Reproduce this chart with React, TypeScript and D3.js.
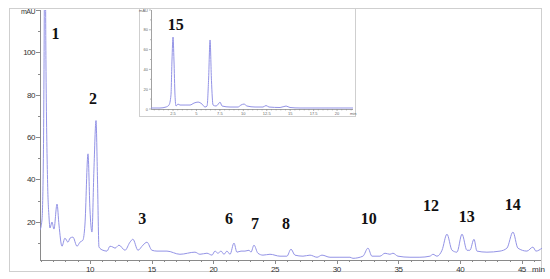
import React from "react";
import * as d3 from "d3";

// Main chromatogram (time in min, signal in mAU)
const mainTime = [5.95, 6.11, 6.23, 6.27, 6.35, 6.43, 6.56, 6.68, 6.76, 6.92, 7.08, 7.33, 7.49, 7.73, 7.97, 8.22, 8.38, 8.62, 8.95, 9.19, 9.43, 9.59, 9.84, 10.0, 10.16, 10.32, 10.49, 10.61, 10.73, 11.05, 11.38, 11.62, 11.86, 12.03, 12.35, 12.84, 13.24, 13.48, 13.89, 14.29, 14.62, 15.02, 15.43, 16.24, 17.29, 18.51, 18.91, 19.48, 19.89, 20.13, 20.37, 20.62, 20.86, 21.1, 21.35, 21.67, 21.91, 22.24, 22.56, 22.89, 23.05, 23.29, 23.61, 24.02, 24.59, 25.4, 25.96, 26.29, 26.61, 27.26, 27.83, 28.4, 28.8, 29.45, 30.26, 31.07, 31.31, 32.12, 32.53, 32.85, 33.5, 33.91, 34.31, 34.55, 34.96, 35.93, 36.74, 37.55, 37.8, 38.12, 38.53, 38.93, 39.34, 39.74, 40.15, 40.55, 40.79, 41.12, 41.36, 42.17, 43.23, 43.79, 44.28, 44.68, 45.41, 45.9, 46.14, 46.63];
const mainSignal = [16.1, 20.9, 54, 87, 170, 96.7, 40, 22.3, 17.1, 19.9, 16.6, 28.4, 18.5, 8.5, 12.3, 10.4, 12.3, 12.8, 8.5, 10.4, 11.4, 18.5, 52.1, 25.6, 15.2, 44.5, 67.8, 39.8, 8.1, 6.6, 6.2, 8.5, 8.1, 7.6, 9.0, 6.6, 10.4, 11.8, 6.6, 9.0, 10.4, 6.6, 6.2, 6.2, 4.7, 5.7, 4.7, 5.2, 4.3, 6.2, 5.2, 6.2, 4.7, 6.2, 4.7, 10, 5.7, 6.2, 6.2, 6.6, 5.7, 9.0, 5.2, 4.3, 4.7, 3.8, 3.8, 7.1, 4.3, 3.8, 4.3, 3.3, 4.3, 3.3, 3.3, 3.3, 2.8, 3.8, 7.6, 3.8, 3.8, 5.2, 4.7, 5.2, 3.8, 3.3, 3.3, 3.8, 4.7, 3.8, 6.6, 14.2, 6.6, 5.7, 14.2, 6.6, 6.6, 11.8, 6.2, 5.7, 6.2, 7.6, 15.2, 7.6, 6.2, 8.1, 6.2, 7.6];

// Inset chromatogram
const insetTime = [0.15, 1.11, 1.75, 2.07, 2.28, 2.39, 2.5, 2.6, 2.71, 2.82, 3.03, 3.24, 3.78, 4.31, 4.74, 5.17, 5.59, 5.91, 6.13, 6.29, 6.45, 6.6, 6.77, 7.09, 7.41, 7.51, 7.73, 8.58, 9.43, 9.75, 10.07, 10.39, 11.25, 12.1, 12.42, 12.74, 13.92, 14.56, 14.98, 16.05, 21.7];
const insetSignal = [1, 1, 2, 4, 14, 49.5, 72.7, 49.5, 14, 3, 5, 4, 4, 4, 6, 7, 5, 2, 3, 29, 69.7, 29, 4, 3, 6, 7, 3, 2, 2, 4, 5, 3, 2, 2, 3.5, 2, 1.5, 3, 1.5, 1, 1];

// Peak labels
const peakNames = ["1", "2", "3", "6", "7", "8", "10", "12", "13", "14"];
const peakTimes = [7.2, 10.24, 14.24, 21.26, 23.37, 25.88, 32.6, 37.63, 40.54, 44.27];
const peakLabelValues = [106.3, 75.6, 19, 19, 16.6, 16.6, 19, 25.1, 19.9, 25.6];
const insetPeakName = "15";
const insetPeakTime = 2.8;
const insetPeakValue = 80;

const mainXTicks = [10, 15, 20, 25, 30, 35, 40, 45];
const mainYTicks = [20, 40, 60, 80, 100];
const insetXTicks = [2.5, 5, 7.5, 10, 12.5, 15, 17.5, 20];
const insetXTickLabels = ["2.5", "5", "7.5", "10", "12.5", "15", "17.5", "20"];
const insetYTicks = [0, 20, 40, 60, 80];

export default function App() {
  const W = 550, H = 279;
  const x = d3.scaleLinear().domain([5.95, 46.6]).range([40, 541.6]);
  const y = d3.scaleLinear().domain([2, 120]).range([260, 10]);
  const ix = d3.scaleLinear().domain([0.15, 21.7]).range([151, 353]);
  const iy = d3.scaleLinear().domain([0, 100]).range([109, 10]);

  const mainPts = mainTime.map((t, i) => [t, mainSignal[i]] as [number, number]);
  const insetPts = insetTime.map((t, i) => [t, insetSignal[i]] as [number, number]);
  const line = d3.line<[number, number]>().x(d => x(d[0])).y(d => y(d[1])).curve(d3.curveMonotoneX);
  const iline = d3.line<[number, number]>().x(d => ix(d[0])).y(d => iy(d[1])).curve(d3.curveMonotoneX);

  const minorX = d3.range(6, 47, 1).filter(v => v % 5 !== 0);
  const minorY = d3.range(10, 120, 20);
  const insetMinorX = d3.range(0.5, 21.6, 0.5).filter(v => insetXTicks.indexOf(v) < 0);
  const insetMinorY = d3.range(10, 100, 20);

  const axisColor = "#8a8a8a";
  const traceColor = "#9393e6";
  const frame = "#cfcfcf";
  const tickFont = "Liberation Sans, Arial, sans-serif";
  const labelFont = "Liberation Serif, 'Times New Roman', serif";

  return (
    <svg width={W} height={H} style={{ position: "absolute", left: 0, top: 0, background: "#fff" }}>
      <defs>
        <clipPath id="plotClip">
          <rect x={40} y={10} width={502} height={250} />
        </clipPath>
      </defs>
      <rect x={9.5} y={8.5} width={532} height={263} fill="#fff" stroke={frame} />
      {/* main axes */}
      <line x1={40.5} y1={10} x2={40.5} y2={260} stroke={axisColor} />
      <line x1={40} y1={260.5} x2={541} y2={260.5} stroke={axisColor} />
      {mainYTicks.map(v => (
        <g key={"yt" + v}>
          <line x1={36} x2={40} y1={Math.round(y(v)) + 0.5} y2={Math.round(y(v)) + 0.5} stroke={axisColor} />
          <text x={35} y={y(v) + 3} fontSize={8} textAnchor="end" fill="#333" fontFamily={tickFont} letterSpacing={-0.5}>{v}</text>
        </g>
      ))}
      {minorY.map(v => (
        <line key={"ym" + v} x1={38} x2={40} y1={Math.round(y(v)) + 0.5} y2={Math.round(y(v)) + 0.5} stroke={axisColor} />
      ))}
      <line x1={36} x2={40} y1={10.5} y2={10.5} stroke={axisColor} />
      <text x={35} y={14} fontSize={7} textAnchor="end" fill="#333" fontFamily={tickFont} letterSpacing={-0.5}>mAU</text>
      {mainXTicks.map(v => (
        <g key={"xt" + v}>
          <line x1={Math.round(x(v)) + 0.5} x2={Math.round(x(v)) + 0.5} y1={260} y2={264} stroke={axisColor} />
          <text x={x(v)} y={272} fontSize={8} textAnchor="middle" fill="#333" fontFamily={tickFont} letterSpacing={-0.5}>{v}</text>
        </g>
      ))}
      {minorX.map(v => (
        <line key={"xm" + v} x1={Math.round(x(v)) + 0.5} x2={Math.round(x(v)) + 0.5} y1={260} y2={262} stroke={axisColor} />
      ))}
      <text x={532} y={272} fontSize={8} fill="#333" fontFamily={tickFont}>min</text>
      <path d={line(mainPts) || ""} fill="none" stroke={traceColor} strokeWidth={1} clipPath="url(#plotClip)" />

      {/* inset */}
      <rect x={139.5} y={8.5} width={216} height={108} fill="#fff" stroke={frame} />
      <line x1={151.5} y1={10} x2={151.5} y2={109} stroke={axisColor} strokeWidth={0.8} />
      <line x1={151} y1={109.5} x2={353} y2={109.5} stroke={axisColor} strokeWidth={0.8} />
      {insetYTicks.map(v => (
        <g key={"iyt" + v}>
          <line x1={149} x2={151} y1={iy(v)} y2={iy(v)} stroke={axisColor} strokeWidth={0.6} />
          <text x={148} y={iy(v) + 1.5} fontSize={4} textAnchor="end" fill="#666" fontFamily={tickFont}>{v}</text>
        </g>
      ))}
      {insetMinorY.map(v => (
        <line key={"iym" + v} x1={150} x2={151} y1={iy(v)} y2={iy(v)} stroke={axisColor} strokeWidth={0.6} />
      ))}
      <line x1={149} x2={151} y1={10} y2={10} stroke={axisColor} strokeWidth={0.6} />
      <text x={148} y={11.5} fontSize={4} textAnchor="end" fill="#666" fontFamily={tickFont}>mAU</text>
      {insetXTicks.map((v, i) => (
        <g key={"ixt" + v}>
          <line x1={ix(v)} x2={ix(v)} y1={109} y2={111} stroke={axisColor} strokeWidth={0.6} />
          <text x={ix(v)} y={114.5} fontSize={4} textAnchor="middle" fill="#666" fontFamily={tickFont}>{insetXTickLabels[i]}</text>
        </g>
      ))}
      {insetMinorX.map(v => (
        <line key={"ixm" + v} x1={ix(v)} x2={ix(v)} y1={109} y2={110.5} stroke={axisColor} strokeWidth={0.5} />
      ))}
      <text x={350} y={114.5} fontSize={4} fill="#666" fontFamily={tickFont}>min</text>
      <path d={iline(insetPts) || ""} fill="none" stroke={traceColor} strokeWidth={1} />
      <text x={ix(insetPeakTime)} y={iy(insetPeakValue)} fontSize={16} fontWeight="bold" textAnchor="middle" fill="#111" fontFamily={labelFont}>{insetPeakName}</text>

      {/* peak labels */}
      {peakNames.map((n, i) => (
        <text key={"pl" + n} x={x(peakTimes[i])} y={y(peakLabelValues[i])} fontSize={16} fontWeight="bold" textAnchor="middle" fill="#111" fontFamily={labelFont}>{n}</text>
      ))}
    </svg>
  );
}
